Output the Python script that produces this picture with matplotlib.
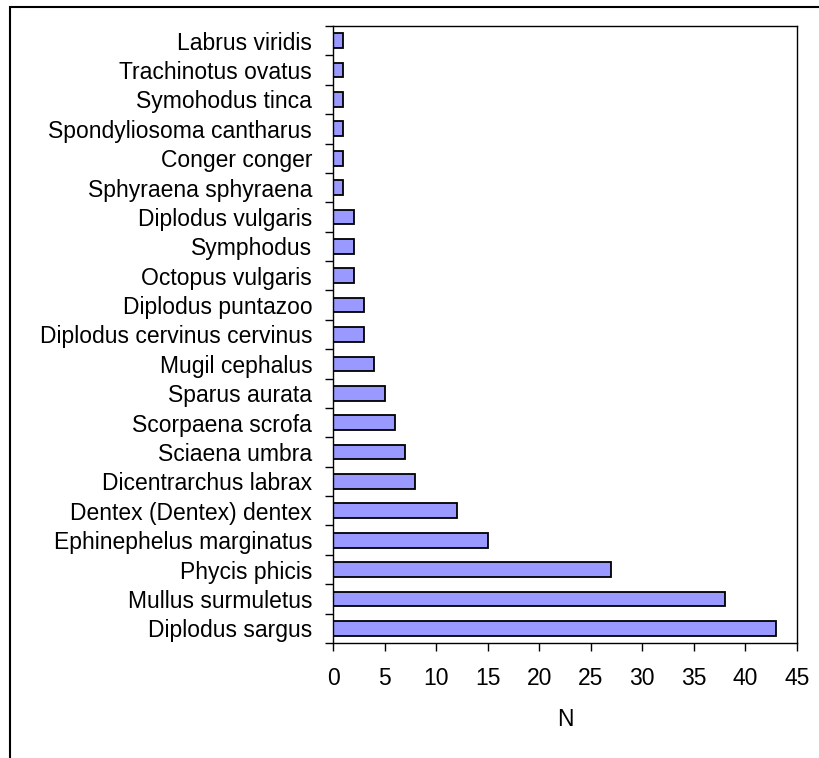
import matplotlib.pyplot as plt
from matplotlib.patches import Rectangle

species = ['Diplodus sargus', 'Mullus surmuletus', 'Phycis phicis',
           'Ephinephelus marginatus', 'Dentex (Dentex) dentex',
           'Dicentrarchus labrax', 'Sciaena umbra', 'Scorpaena scrofa',
           'Sparus aurata', 'Mugil cephalus', 'Diplodus cervinus cervinus',
           'Diplodus puntazoo', 'Octopus vulgaris', 'Symphodus',
           'Diplodus vulgaris', 'Sphyraena sphyraena', 'Conger conger',
           'Spondyliosoma cantharus', 'Symohodus tinca',
           'Trachinotus ovatus', 'Labrus viridis']
counts = [43, 38, 27, 15, 12, 8, 7, 6, 5, 4, 3, 3, 2, 2, 2, 1, 1, 1, 1, 1, 1]
xticks = [0, 5, 10, 15, 20, 25, 30, 35, 40, 45]

plt.rcParams['font.family'] = ['Liberation Sans', 'DejaVu Sans']
fs = 16.5

fig = plt.figure(figsize=(8.19, 7.58), dpi=100)
ax = fig.add_axes([333 / 819, 1 - 643 / 758, (797 - 333) / 819, (643 - 26) / 758])

pos = list(range(len(species)))
ax.barh(pos, counts, height=0.5, color='#9999ff', edgecolor='black', linewidth=1.3)

ax.set_xlim(0, 45)
ax.set_ylim(-0.5, len(species) - 0.5)
ax.set_xticks(xticks)
ax.set_xticklabels([str(v) for v in xticks], fontsize=fs)
ax.set_yticks(pos)
ax.set_yticklabels(species, fontsize=fs)
ax.set_yticks([p - 0.5 for p in pos] + [len(species) - 0.5], minor=True)
ax.tick_params(axis='y', which='major', length=0, pad=15)
ax.tick_params(axis='y', which='minor', length=6, width=1, direction='out')
ax.tick_params(axis='x', length=6, width=1, direction='out', pad=11)
ax.set_xlabel('N', fontsize=fs, labelpad=13)
for s in ax.spines.values():
    s.set_linewidth(1)

# outer frame around the chart
fig.patches.append(Rectangle((10 / 819, -0.1), 1.2, 1 - 7 / 758 + 0.1,
                             transform=fig.transFigure, fill=False,
                             edgecolor='black', linewidth=1.5))

fig.savefig('out.png', dpi=100)
